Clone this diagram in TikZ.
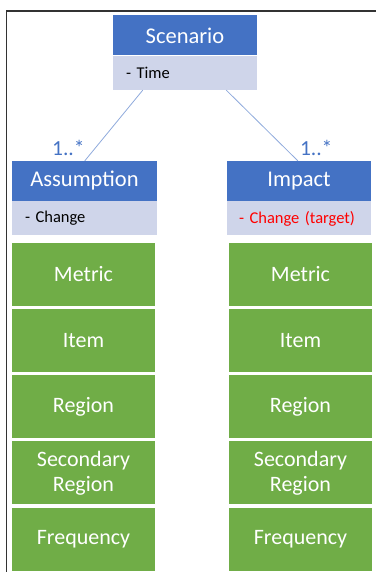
\documentclass[tikz,border=0pt]{standalone}
\usepackage{fontspec}
\setmainfont{Carlito}
\usetikzlibrary{positioning,calc}

\definecolor{hdrblue}{HTML}{4472C4}
\definecolor{attrgray}{HTML}{CFD5EA}
\definecolor{boxgreen}{HTML}{70AD47}
\definecolor{linkblue}{HTML}{8FAADC}
\definecolor{framegray}{HTML}{333333}

\tikzset{
  classhead/.style={fill=hdrblue, text=white, minimum height=40pt, inner sep=0pt,
    font=\fontsize{22.5}{25}\selectfont},
  classattr/.style={fill=attrgray, minimum height=34pt, inner xsep=13pt, inner ysep=0pt,
    align=left, font=\fontsize{16.5}{19}\selectfont},
  field/.style={fill=boxgreen, text=white, minimum width=143pt, minimum height=63pt,
    inner sep=0pt, align=center, font=\fontsize{22}{25}\selectfont},
  mult/.style={text=hdrblue, inner sep=1pt, font=\fontsize{21.5}{24}\selectfont},
  link/.style={draw=linkblue, line width=0.8pt},
}

\begin{document}
\begin{tikzpicture}[x=1pt, y=-1pt]
  \useasboundingbox (0,0) rectangle (376,572);
  % page frame
  \draw[framegray, line width=1.5pt] (6.5,572) -- (6.5,11) -- (376,11);

  % classes
  \node[classhead, minimum width=144pt] (shead) at (185,35.5) {Scenario};
  \node[classattr, text width=118pt, below=0pt of shead] (sattr) {- Time};
  \node[classhead, minimum width=145pt] (ahead) at (84.5,181) {Assumption};
  \node[classattr, text width=119pt, below=0pt of ahead] (aattr) {- Change};
  \node[classhead, minimum width=144pt] (ihead) at (299,181) {Impact};
  \node[classattr, text width=120pt, inner xsep=12pt, below=0pt of ihead, text=red] (iattr) {- Change (target)};

  % associations
  \draw[link] ($(sattr.south west)+(30,0)$) -- ($(ahead.north west)+(73,0)$);
  \draw[link] ($(sattr.south east)+(-31,0)$) -- ($(ihead.north west)+(71,0)$);
  \node[mult, anchor=south east] (amult) at ($(ahead.north west)+(74,-4)$) {1..*};
  \node[mult, anchor=south west] (imult) at ($(ihead.north west)+(72,-4)$) {1..*};

  % fields
  \foreach \col/\cx in {a/83.5, i/300.5} {
    \node[field] (\col1) at (\cx,274.5) {Metric};
    \node[field, below=2.75pt of \col1] (\col2) {Item};
    \node[field, below=2.75pt of \col2] (\col3) {Region};
    \node[field, below=2.75pt of \col3] (\col4) {Secondary\\Region};
    \node[field, below=2.75pt of \col4] (\col5) {Frequency};
  }
\end{tikzpicture}
\end{document}
